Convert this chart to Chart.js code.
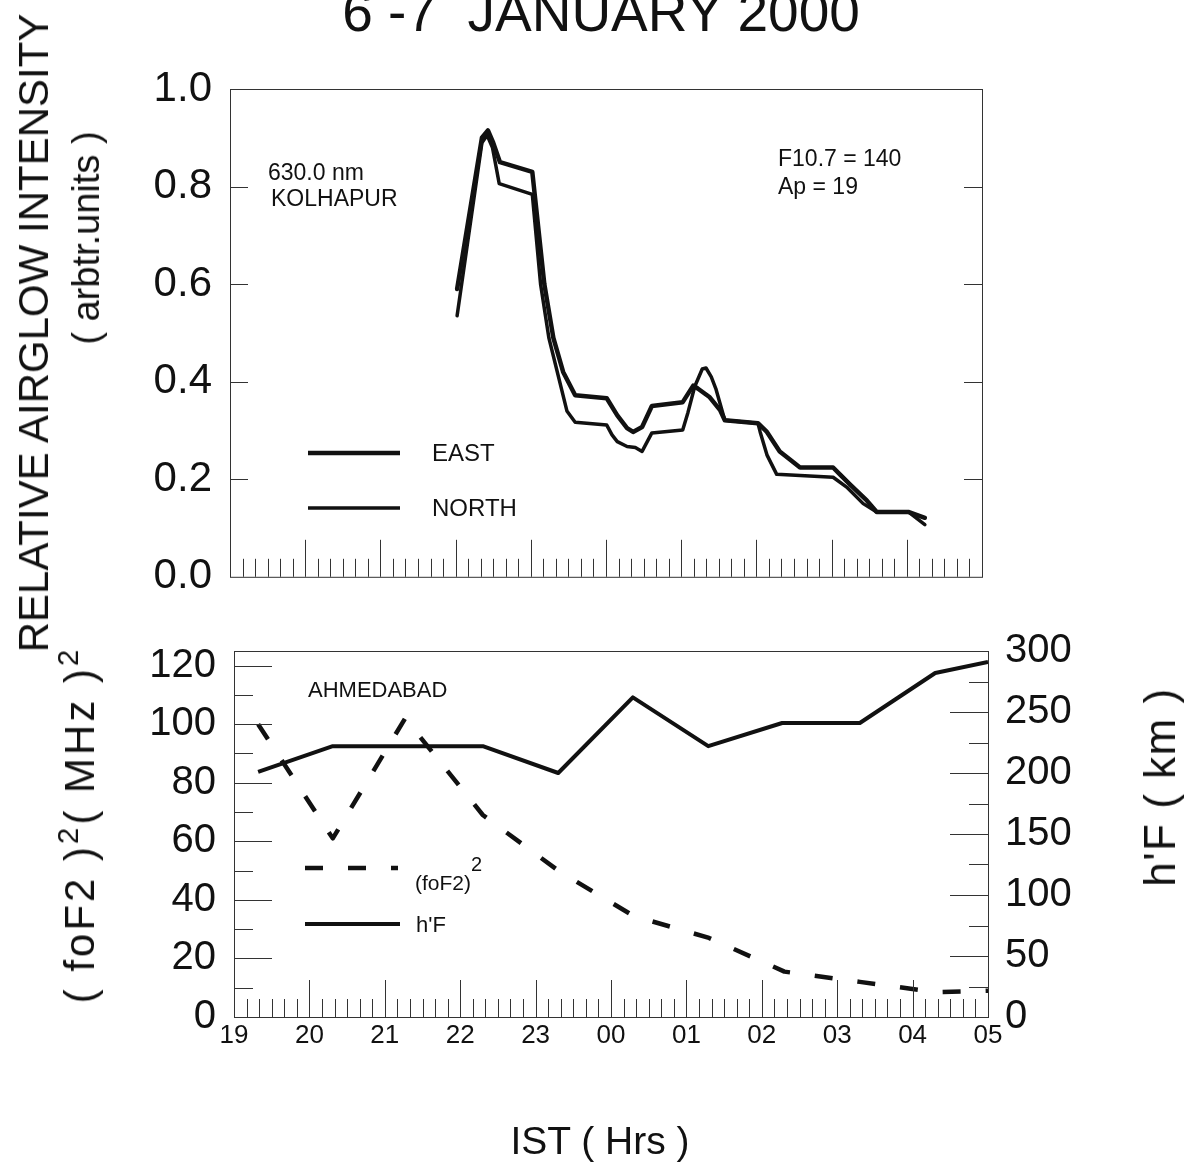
<!DOCTYPE html>
<html>
<head>
<meta charset="utf-8">
<script src="https://cdn.jsdelivr.net/npm/chart.js@4.4.1/dist/chart.umd.min.js"></script>
<style>
  html, body { margin: 0; padding: 0; background: #fff; }
  body { width: 1191px; height: 1165px; position: relative; overflow: hidden; font-family: "Liberation Sans", Arial, sans-serif; color: #111; }
  .box { position: absolute; left: 0; width: 1191px; }
  #topBox { top: 0; height: 620px; }
  #bottomBox { top: 609px; height: 556px; }
  .label { position: absolute; white-space: pre; line-height: 1; }
  .rot { transform: translate(-50%, -50%) rotate(-90deg); }
  .mid { transform: translate(-50%, -50%); }
  sup { font-size: 0.7em; vertical-align: 0.55em; line-height: 0; }
</style>
</head>
<body>
<div class="box" id="topBox"><canvas id="airglowChart"></canvas></div>
<div class="box" id="bottomBox"><canvas id="ionoChart"></canvas></div>

<div class="label" style="left:0; width:1202px; text-align:center; top:-15px; font-size:55px;">6 -7  JANUARY 2000</div>
<div class="label rot" style="left:34px; top:333px; font-size:42px;">RELATIVE AIRGLOW INTENSITY</div>
<div class="label rot" style="left:86px; top:238px; font-size:38px;">( arbtr.units )</div>
<div class="label rot" style="left:80px; top:825px; font-size:42px; letter-spacing:3px;">( foF2 )<sup>2</sup>( MHz )<sup>2</sup></div>
<div class="label rot" style="left:1160px; top:787px; font-size:44px; letter-spacing:1.5px;">h'F ( km )</div>
<div class="label mid" style="left:600px; top:1140px; font-size:39px;">IST ( Hrs )</div>

<div class="label" style="left:268px; top:161px; font-size:23px;">630.0 nm</div>
<div class="label" style="left:271px; top:187px; font-size:23px;">KOLHAPUR</div>
<div class="label" style="left:778px; top:147px; font-size:23px;">F10.7 = 140</div>
<div class="label" style="left:778px; top:175px; font-size:23px;">Ap = 19</div>
<div class="label" style="left:432px; top:441px; font-size:24px;">EAST</div>
<div class="label" style="left:432px; top:496px; font-size:24px;">NORTH</div>
<div class="label" style="left:308px; top:679px; font-size:22px;">AHMEDABAD</div>
<div class="label" style="left:415px; top:872px; font-size:21px;">(foF2)<span style="font-size:20px; position:relative; top:-19px;">2</span></div>
<div class="label" style="left:416px; top:914px; font-size:22px;">h'F</div>

<script>
const ink = "#111";
const fontFamily = '"Liberation Sans", Arial, sans-serif';

// hour axis: 19 .. 29, values past 24 are the next morning
const hourLabels = ["19", "20", "21", "22", "23", "00", "01", "02", "03", "04", "05"];
const intensityTicks = [0, 0.2, 0.4, 0.6, 0.8, 1.0];
const fof2Ticks = [0, 20, 40, 60, 80, 100, 120];
const hfTicks = [0, 50, 100, 150, 200, 250, 300];

// 630.0 nm airglow at Kolhapur
const eastHours = [22.02, 22.35, 22.43, 22.50, 22.59, 23.02, 23.18, 23.30, 23.43, 23.59,
  24.01, 24.15, 24.28, 24.36, 24.48, 24.61, 25.02, 25.16, 25.22, 25.38,
  25.52, 25.58, 26.02, 26.14, 26.31, 26.45, 26.58, 27.02, 27.11, 27.24,
  27.47, 27.60, 28.02, 28.24];
const eastIntensity = [0.59, 0.90, 0.915, 0.89, 0.85, 0.83, 0.60, 0.49, 0.42, 0.372,
  0.366, 0.331, 0.305, 0.297, 0.307, 0.35, 0.358, 0.392, 0.386, 0.368,
  0.341, 0.321, 0.315, 0.297, 0.257, 0.24, 0.224, 0.224, 0.21, 0.19,
  0.156, 0.133, 0.133, 0.121];
const northHours = [22.02, 22.35, 22.42, 22.49, 22.58, 23.02, 23.13, 23.24, 23.48, 23.59,
  24.01, 24.08, 24.15, 24.28, 24.39, 24.48, 24.61, 25.02, 25.09, 25.18,
  25.28, 25.33, 25.40, 25.46, 25.58, 26.02, 26.05, 26.14, 26.27, 27.02,
  27.20, 27.42, 27.60, 28.02, 28.24];
const northIntensity = [0.535, 0.89, 0.905, 0.88, 0.806, 0.784, 0.60, 0.49, 0.34, 0.317,
  0.311, 0.291, 0.277, 0.267, 0.265, 0.257, 0.295, 0.301, 0.337, 0.39,
  0.426, 0.428, 0.41, 0.386, 0.321, 0.315, 0.297, 0.25, 0.21, 0.204,
  0.184, 0.15, 0.133, 0.133, 0.107];

// Ahmedabad ionosonde
const fof2Hours = [19.32, 20.31, 21.27, 22.3, 23.3, 24.3, 25.3, 26.3, 27.3, 28.3, 29.0];
const fof2Squared = [100, 61, 102, 69, 50, 34.5, 27, 15.5, 12, 8.5, 9];
const hfHours = [19.32, 20.31, 21.3, 22.3, 23.3, 24.29, 25.29, 26.27, 27.3, 28.3, 29.0];
const hfHeight = [201, 222, 222, 222, 200, 262, 222, 241, 241, 282, 291];

function points(xs, ys) {
  return xs.map((x, i) => ({ x, y: ys[i] }));
}

function fixedTicks(values) {
  return (scale) => { scale.ticks = values.map((value) => ({ value })); };
}

// frame plus the inward tick marks of the original plot
const frameTicks = {
  id: "frameTicks",
  afterDraw(chart, args, opts) {
    const { ctx, chartArea: a, scales } = chart;
    ctx.save();
    ctx.strokeStyle = "#333";
    ctx.lineWidth = 1;
    ctx.strokeRect(a.left + 0.5, a.top + 0.5, a.right - a.left, a.bottom - a.top);
    ctx.beginPath();
    for (let i = 1; i < 60; i++) {
      const px = Math.round(scales.x.getPixelForValue(19 + i / 6)) + 0.5;
      const len = i % 6 === 0 ? 37 : 18;
      ctx.moveTo(px, a.bottom);
      ctx.lineTo(px, a.bottom - len);
    }
    opts.sides.forEach((side) => {
      const scale = scales[side.axis];
      const n = Math.ceil(scale.max / side.step - 1e-6);
      for (let k = 1; k < n; k++) {
        const py = Math.round(scale.getPixelForValue(k * side.step)) + 0.5;
        const len = k % side.majorEvery === 0 ? side.majorLen : side.minorLen;
        if (side.right) {
          ctx.moveTo(a.right, py);
          ctx.lineTo(a.right - len, py);
        } else {
          ctx.moveTo(a.left, py);
          ctx.lineTo(a.left + len, py);
        }
      }
    });
    ctx.stroke();
    ctx.restore();
  },
};

// line samples for the in-plot keys
const keySamples = {
  id: "keySamples",
  afterDraw(chart, args, opts) {
    const { ctx } = chart;
    opts.items.forEach((item) => {
      const ds = chart.data.datasets[item.dataset];
      ctx.save();
      ctx.strokeStyle = ds.borderColor;
      ctx.lineWidth = ds.borderWidth;
      ctx.setLineDash(ds.borderDash || []);
      ctx.beginPath();
      ctx.moveTo(item.x1, item.y);
      ctx.lineTo(item.x2, item.y);
      ctx.stroke();
      ctx.restore();
    });
  },
};

function hourAxis(showLabels, height) {
  return {
    type: "linear",
    min: 19,
    max: 29,
    ticks: {
      display: showLabels,
      stepSize: 1,
      autoSkip: false,
      maxRotation: 0,
      padding: 3,
      color: ink,
      font: { family: fontFamily, size: 26 },
      callback: (value) => hourLabels[Math.round(value) - 19],
    },
    grid: { display: false, drawTicks: false },
    border: { display: false },
    afterFit: (scale) => { scale.height = height; },
  };
}

new Chart(document.querySelector("#airglowChart"), {
  type: "line",
  data: {
    datasets: [
      { label: "EAST", data: points(eastHours, eastIntensity), borderColor: ink, borderWidth: 4.5 },
      { label: "NORTH", data: points(northHours, northIntensity), borderColor: ink, borderWidth: 3.5 },
    ],
  },
  options: {
    animation: false,
    responsive: true,
    maintainAspectRatio: false,
    layout: { padding: { top: 89, right: 209, left: 0, bottom: 0 } },
    elements: { point: { radius: 0 }, line: { tension: 0, borderJoinStyle: "round", borderCapStyle: "round" } },
    plugins: {
      legend: { display: false },
      tooltip: { enabled: false },
      frameTicks: {
        sides: [
          { axis: "y", step: 0.2, majorEvery: 1, majorLen: 18, minorLen: 18 },
          { axis: "y", step: 0.2, majorEvery: 1, majorLen: 18, minorLen: 18, right: true },
        ],
      },
      keySamples: {
        items: [
          { dataset: 0, x1: 308, x2: 400, y: 453 },
          { dataset: 1, x1: 308, x2: 400, y: 508 },
        ],
      },
    },
    scales: {
      x: hourAxis(false, 36),
      y: {
        min: 0,
        max: 1,
        afterBuildTicks: fixedTicks(intensityTicks),
        ticks: {
          padding: 18,
          color: ink,
          font: { family: fontFamily, size: 42 },
          callback: (value) => value.toFixed(1),
        },
        grid: { display: false, drawTicks: false },
        border: { display: false },
        afterFit: (scale) => { scale.width = 230; },
      },
    },
  },
  plugins: [frameTicks, keySamples],
});

new Chart(document.querySelector("#ionoChart"), {
  type: "line",
  data: {
    datasets: [
      { label: "(foF2)^2", data: points(fof2Hours, fof2Squared), yAxisID: "y", borderColor: ink, borderWidth: 4.5, borderDash: [18, 25] },
      { label: "h'F", data: points(hfHours, hfHeight), yAxisID: "y2", borderColor: ink, borderWidth: 4 },
    ],
  },
  options: {
    animation: false,
    responsive: true,
    maintainAspectRatio: false,
    layout: { padding: { top: 31, right: 0, left: 0, bottom: 0 } },
    elements: { point: { radius: 0 }, line: { tension: 0, borderJoinStyle: "round" } },
    plugins: {
      legend: { display: false },
      tooltip: { enabled: false },
      frameTicks: {
        sides: [
          { axis: "y", step: 10, majorEvery: 2, majorLen: 38, minorLen: 19 },
          { axis: "y2", step: 25, majorEvery: 2, majorLen: 38, minorLen: 19, right: true },
        ],
      },
      keySamples: {
        items: [
          { dataset: 0, x1: 305, x2: 398, y: 259 },
          { dataset: 1, x1: 305, x2: 400, y: 315 },
        ],
      },
    },
    scales: {
      x: hourAxis(true, 148),
      y: {
        position: "left",
        min: 0,
        max: 125,
        afterBuildTicks: fixedTicks(fof2Ticks),
        ticks: { padding: 18, color: ink, font: { family: fontFamily, size: 40 } },
        grid: { display: false, drawTicks: false },
        border: { display: false },
        afterFit: (scale) => { scale.width = 234; },
      },
      y2: {
        position: "right",
        min: 0,
        max: 300,
        afterBuildTicks: fixedTicks(hfTicks),
        ticks: { padding: 17, color: ink, font: { family: fontFamily, size: 40 } },
        grid: { display: false, drawTicks: false },
        border: { display: false },
        afterFit: (scale) => { scale.width = 203; },
      },
    },
  },
  plugins: [frameTicks, keySamples],
});
</script>
</body>
</html>
